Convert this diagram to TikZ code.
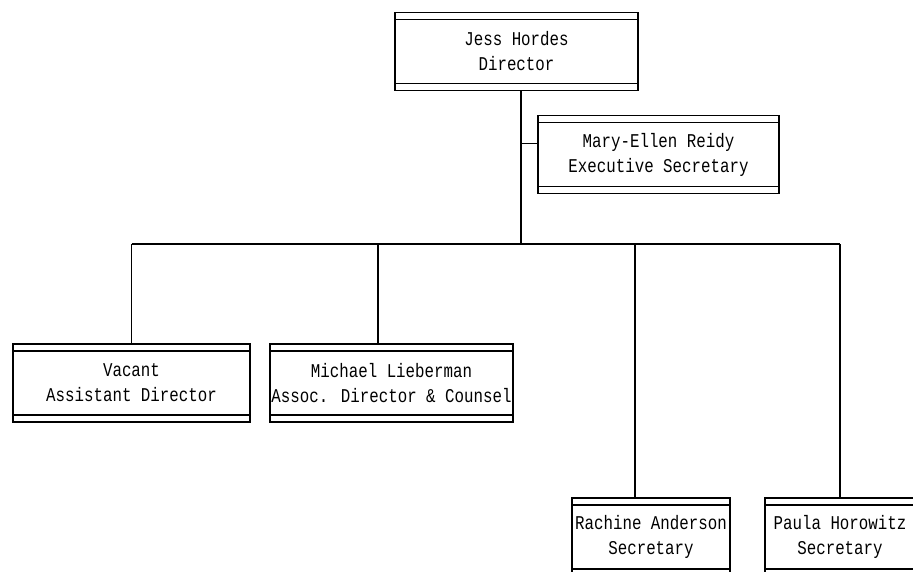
\documentclass[tikz,border=0pt]{standalone}
\usepackage{fontspec}
\newfontfamily\orgfont[FakeStretch=0.81]{Liberation Mono}
\tikzset{
  OrgLine/.style = {line width=1.1pt},
  OrgBox/.style = {draw, OrgLine, rectangle, minimum height=78pt, inner sep=0pt,
    align=center, font={\orgfont\fontsize{19.5}{25}\selectfont},
    path picture={\draw[OrgLine]
      ([yshift=-7pt]path picture bounding box.north west) -- ([yshift=-7pt]path picture bounding box.north east)
      ([yshift=7pt]path picture bounding box.south west) -- ([yshift=7pt]path picture bounding box.south east);}}
}
\begin{document}
\begin{tikzpicture}[x=1pt,y=-1pt]
\useasboundingbox (0,0) rectangle (913,571);
\node[OrgBox, minimum width=243pt] (director) at (516.5,51.5) {Jess Hordes\\Director};
\node[OrgBox, minimum width=241pt] (execsec) at (658.5,154.5) {Mary-Ellen Reidy\\Executive Secretary};
\node[OrgBox, minimum width=237pt] (vacant) at (131.5,383) {Vacant\\Assistant Director};
\node[OrgBox, minimum width=243pt] (counsel) at (391.5,383) {Michael Lieberman\\Assoc. Director \& Counsel};
\node[OrgBox, minimum width=158pt] (rachine) at (651,537) {Rachine Anderson\\Secretary};
\node[OrgBox, minimum width=150pt] (paula) at (840,537) {Paula Horowitz\\Secretary};
\coordinate (bus) at (521,244);
\draw[OrgLine] (director.south -| bus) -- (bus);
\draw[OrgLine] ([yshift=11pt]execsec.west -| bus) -- ([yshift=11pt]execsec.west);
\draw[OrgLine] (vacant.north |- bus) -- (paula.north |- bus);
\foreach \n/\s in {vacant/0,counsel/-13.5,rachine/-16,paula/0}
  \draw[OrgLine] ([xshift=\s pt]\n.north) -- ([xshift=\s pt]\n.north |- bus);
\end{tikzpicture}
\end{document}
